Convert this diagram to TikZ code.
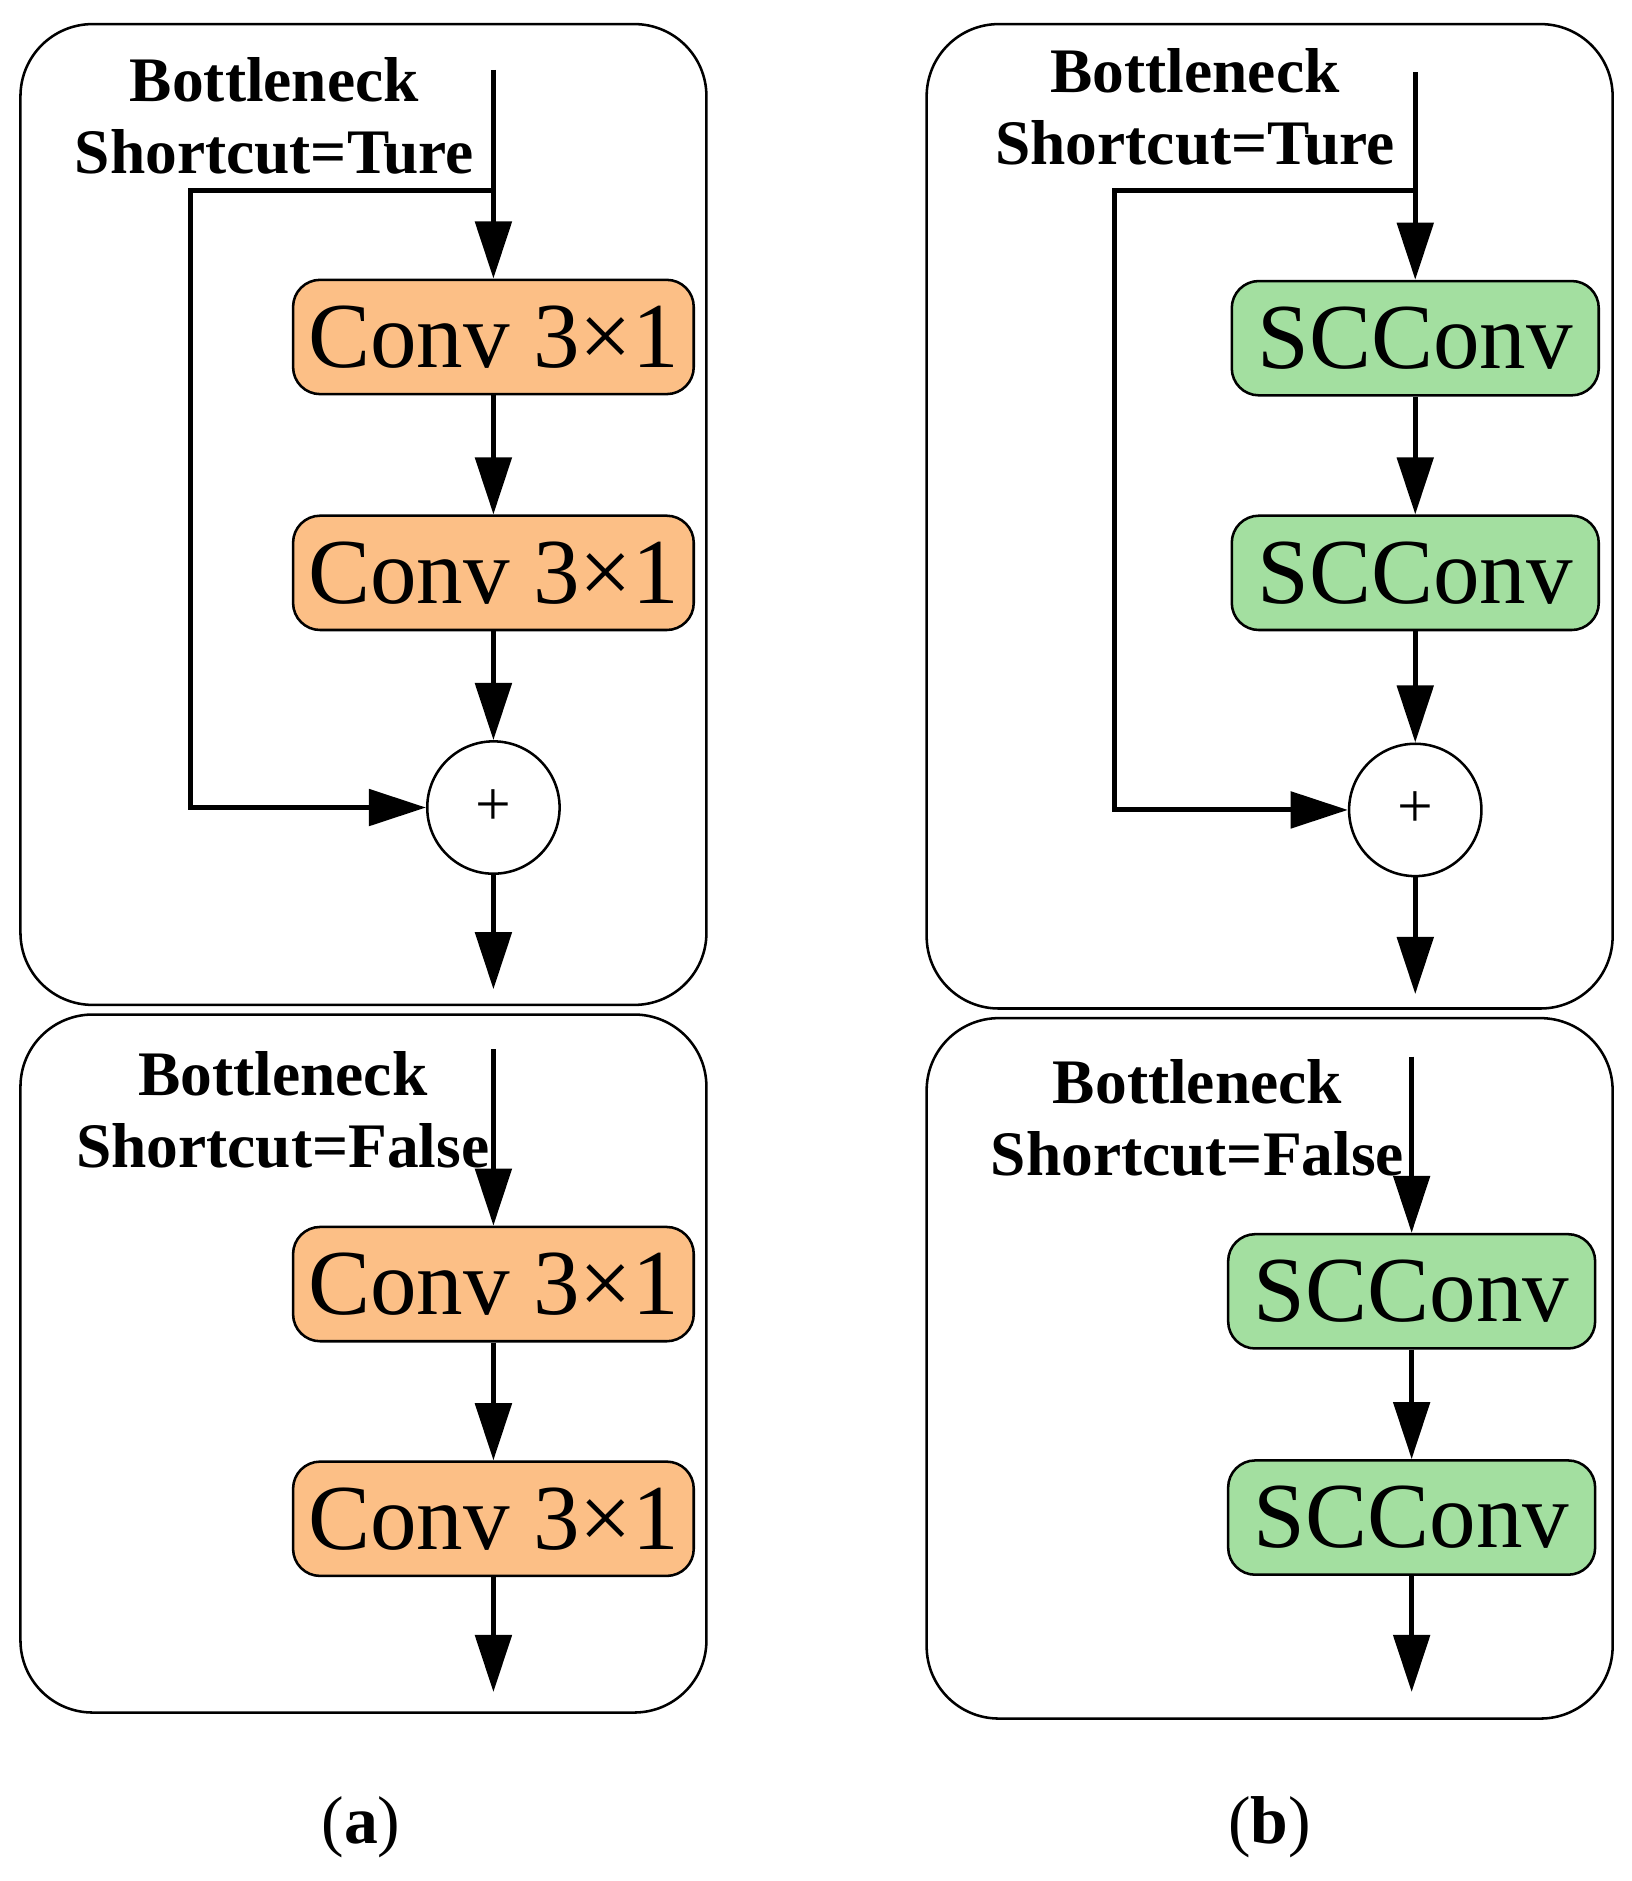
\documentclass[tikz,border=0pt]{standalone}
\usepackage{fontspec}
\setmainfont{Liberation Serif}
\usetikzlibrary{arrows.meta}
\definecolor{org}{HTML}{FCBF86}
\definecolor{grn}{HTML}{A3DFA0}
\begin{document}
\begin{tikzpicture}[x=0.02cm,y=-0.02cm,
  panel/.style={draw,line width=1.2pt,rounded corners=1.2cm},
  blk/.style={draw,line width=1.2pt,rounded corners=0.45cm,minimum height=1.9cm,font=\fontsize{44}{44}\selectfont,inner sep=0pt},
  ob/.style={blk,fill=org,minimum width=6.66cm},
  gb/.style={blk,fill=grn,minimum width=6.1cm},
  add/.style={draw,circle,line width=1.2pt,minimum size=2.2cm,inner sep=0pt,font=\fontsize{30}{30}\selectfont},
  lab/.style={font=\bfseries\fontsize{30}{34}\selectfont,align=center},
  ar/.style={line width=2.4pt,-{Triangle[length=0.95cm,width=0.6cm]}},
  ln/.style={line width=2.4pt}]
\useasboundingbox (0,0) rectangle (1356,1563);
% panels
\draw[panel] (17,20) rectangle (587,835);
\draw[panel] (17,843) rectangle (587,1423);
\draw[panel] (770,20) rectangle (1340,838);
\draw[panel] (770,846) rectangle (1340,1428);
% labels
\node[lab] at (228,96) {Bottleneck\\Shortcut=Ture};
\node[lab] at (993,89) {Bottleneck\\Shortcut=Ture};
\node[lab] at (235,922) {Bottleneck\\Shortcut=False};
\node[lab] at (995,929) {Bottleneck\\Shortcut=False};
% panel a top
\coordinate (ain) at (410,58);
\coordinate (asp) at (410,158);
\node[ob] (a1) at (410,280) {Conv 3×1};
\node[ob] (a2) at (410,476) {Conv 3×1};
\node[add] (aadd) at (410,671) {+};
\coordinate (aout) at (410,822);
\draw[ar] (ain) -- (a1.north);
\draw[ar] (a1) -- (a2);
\draw[ar] (a2) -- (aadd);
\draw[ar] (aadd) -- (aout);
\draw[ar] (asp) -- (158,158) -- (158,671) -- (aadd.west);
% panel b top
\coordinate (bin) at (1176,60);
\coordinate (bsp) at (1176,158);
\node[gb] (b1) at (1176,281) {SCConv};
\node[gb] (b2) at (1176,476) {SCConv};
\node[add] (badd) at (1176,673) {+};
\coordinate (bout) at (1176,826);
\draw[ar] (bin) -- (b1.north);
\draw[ar] (b1) -- (b2);
\draw[ar] (b2) -- (badd);
\draw[ar] (badd) -- (bout);
\draw[ar] (bsp) -- (926,158) -- (926,673) -- (badd.west);
% panel a bottom
\coordinate (cin) at (410,872);
\node[ob] (c1) at (410,1067) {Conv 3×1};
\node[ob] (c2) at (410,1262) {Conv 3×1};
\coordinate (cout) at (410,1406);
\draw[ar] (cin) -- (c1.north);
\draw[ar] (c1) -- (c2);
\draw[ar] (c2) -- (cout);
% panel b bottom
\coordinate (din) at (1173,878);
\node[gb] (d1) at (1173,1073) {SCConv};
\node[gb] (d2) at (1173,1261) {SCConv};
\coordinate (dout) at (1173,1406);
\draw[ar] (din) -- (d1.north);
\draw[ar] (d1) -- (d2);
\draw[ar] (d2) -- (dout);
% captions
\node[font=\fontsize{32}{32}\selectfont] at (300,1518) {(\textbf{a})};
\node[font=\fontsize{32}{32}\selectfont] at (1055,1518) {(\textbf{b})};
\end{tikzpicture}
\end{document}
